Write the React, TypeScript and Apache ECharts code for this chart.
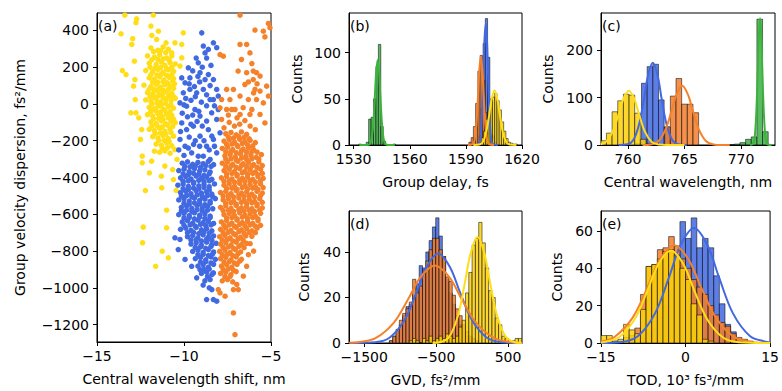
import React, { useEffect, useRef } from 'react';
import * as echarts from 'echarts';

const FONT = 'DejaVu Sans';
const BLUE = '#4169e1';
const ORANGE = '#f5822a';
const YELLOW = '#ffde17';
const GREEN = '#3cb43c';

// ---------- tick values ----------
const aXTicks = [-15, -10, -5];
const aYTicks = [-1200, -1000, -800, -600, -400, -200, 0, 200, 400];
const bXTicks = [1530, 1560, 1590, 1620];
const bYTicks = [0, 50, 100];
const cXTicks = [760, 765, 770];
const cYTicks = [0, 100, 200];
const dXTicks = [-1500, -500, 500];
const dYTicks = [0, 20, 40];
const eXTicks = [-15, 0, 15];
const eYTicks = [0, 20, 40, 60];

// ---------- (a) scatter: [wavelength shift nm, GVD fs^2/mm] ----------
const yellowPoints: number[][] = [
  [-13.62,382],[-13.4,483],[-11.76,483],[-12.76,442],[-12.72,463],[-13.54,182],[-13.33,160],[-12.85,233],[-13.0,324],[-12.95,355],
  [-12.82,133],[-12.9,97],[-12.8,24],[-13.05,-48],[-12.76,-48],[-12.6,-75],[-12.5,-193],[-12.43,-139],[-12.4,-284],[-12.4,-320],
  [-12.22,-471],[-12.34,-670],[-12.38,-755],[-11.63,-883],[-11.25,-801],[-10.9,-837],[-11.0,-674],[-11.0,-578],[-11.28,-456],[-11.3,-393],
  [-11.1,-338],[-11.99,-375],[-11.86,-311],[-11.7,-257],[-10.61,-411],[-10.65,-357],[-10.4,-302],[-10.52,-248],[-10.13,324],[-10.04,387],
  [-10.13,251],[-10.23,206],[-10.52,333],[-10.71,278],[-11.03,333],[-11.57,351],[-11.47,396],[-11.9,424],[-11.85,373],[-10.45,-470],
  [-11.9,305],[-11.5,292],[-11.2,310],[-10.9,298],
  [-12.1,262],[-11.7,255],[-11.4,268],[-11.0,250],[-10.7,262],
  [-12.0,222],[-11.6,215],[-11.3,228],[-11.1,210],[-10.8,225],[-10.5,218],
  [-12.2,182],[-11.8,176],[-11.5,188],[-11.2,172],[-10.9,185],[-10.6,178],
  [-12.0,142],[-11.7,135],[-11.4,148],[-11.15,130],[-10.85,145],[-10.6,138],
  [-12.3,102],[-11.9,95],[-11.6,108],[-11.35,92],[-11.1,105],[-10.8,98],[-10.55,110],
  [-12.1,62],[-11.8,55],[-11.5,68],[-11.25,52],[-11.0,65],[-10.7,58],
  [-12.2,22],[-11.9,15],[-11.6,28],[-11.35,12],[-11.05,25],[-10.75,18],[-10.5,30],
  [-12.0,-18],[-11.7,-25],[-11.45,-12],[-11.2,-28],[-10.9,-15],[-10.6,-22],
  [-12.1,-58],[-11.8,-65],[-11.5,-52],[-11.25,-68],[-11.0,-55],[-10.7,-62],
  [-11.9,-98],[-11.6,-105],[-11.3,-92],[-11.05,-108],[-10.75,-95],[-10.5,-102],
  [-12.0,-138],[-11.7,-145],[-11.4,-132],[-11.1,-148],[-10.8,-135],
  [-11.8,-178],[-11.5,-185],[-11.2,-172],[-10.9,-188],[-10.6,-175],
  [-11.6,-218],[-11.3,-225],[-11.0,-212],[-10.7,-228],
  [-11.4,-262],[-11.1,-255],[-10.8,-268],
  [-11.75,285],[-11.35,290],[-11.05,280],[-11.85,240],[-11.5,242],[-11.2,245],[-10.85,238],[-11.95,200],[-11.65,195],[-11.35,198],
  [-11.0,192],[-10.7,200],[-11.9,160],[-11.55,158],[-11.3,162],[-11.0,155],[-10.7,160],[-11.8,120],[-11.5,118],[-11.2,122],
  [-10.95,115],[-10.65,125],[-12.0,80],[-11.7,78],[-11.45,82],[-11.2,75],[-10.9,80],[-10.6,85],[-11.95,40],[-11.7,38],
  [-11.45,45],[-11.2,35],[-10.9,42],[-10.6,40],[-11.85,0],[-11.55,5],[-11.3,-2],[-11.05,3],[-10.75,-5],[-11.9,-40],
  [-11.6,-38],[-11.35,-45],[-11.1,-35],[-10.8,-42],[-11.75,-80],[-11.45,-78],[-11.2,-85],[-10.9,-75],[-10.6,-82],[-11.85,-120],
  [-11.55,-118],[-11.25,-125],[-10.95,-115],[-10.65,-122],[-11.65,-160],[-11.35,-158],[-11.05,-165],[-10.75,-155],[-11.45,-200],[-11.15,-198],
  [-10.85,-205],[-11.25,-240],[-10.95,-238],
];

const bluePoints: number[][] = [
  [-8.98,387],[-8.89,315],[-8.79,278],[-8.31,333],[-8.12,306],[-8.6,297],[-9.18,224],[-9.75,197],[-10.13,142],[-9.94,115],
  [-9.66,142],[-9.08,170],[-8.79,133],[-8.31,133],[-8.12,79],[-8.03,43],[-8.5,24],[-8.89,79],[-9.27,61],[-9.66,79],
  [-10.04,61],[-10.23,6],[-9.85,-12],[-9.37,-30],[-9.08,-66],[-8.7,-93],[-8.41,-48],[-8.12,-84],[-7.93,-157],[-8.31,-193],
  [-8.7,-230],[-9.08,-175],[-9.46,-121],[-9.85,-139],[-10.13,-103],[-10.23,-193],[-9.94,-230],[-9.56,-266],[-9.18,-284],[-8.89,-284],
  [-8.5,-302],[-8.12,-266],[-8.4,-175],[-8.03,-30],[-8.31,24],
  [-9.5,180],[-9.2,150],[-8.95,200],[-9.7,110],[-9.4,95],[-9.1,120],[-8.6,160],[-8.5,100],[-9.9,30],[-9.6,20],
  [-9.35,40],[-9.0,10],[-8.7,50],[-8.25,-10],[-10.1,-50],[-9.8,-70],[-9.5,-60],[-9.25,-95],[-8.95,-120],[-8.6,-140],
  [-10.2,-150],[-9.7,-180],[-9.35,-200],[-9.1,-230],[-8.85,-200],[-8.55,-250],[-10.3,-250],[-10.0,-280],[-9.75,-240],[-9.45,-220],
  [-8.25,-230],[-8.7,-10],[-9.15,-40],[-9.6,-110],[-10.0,-5],[-8.45,210],[-9.3,250],[-8.7,250],
  [-10.1,-322],[-9.8,-315],[-9.5,-328],[-9.2,-318],[-8.9,-325],[-8.6,-312],[-8.3,-330],
  [-10.3,-362],[-10.0,-355],[-9.7,-368],[-9.4,-352],[-9.1,-365],[-8.8,-358],[-8.5,-370],
  [-10.2,-402],[-9.9,-395],[-9.6,-408],[-9.3,-392],[-9.0,-405],[-8.7,-398],[-8.4,-410],
  [-10.35,-442],[-10.05,-435],[-9.75,-448],[-9.45,-432],[-9.15,-445],[-8.85,-438],[-8.55,-450],[-8.25,-435],
  [-10.2,-482],[-9.9,-475],[-9.6,-488],[-9.3,-472],[-9.0,-485],[-8.7,-478],[-8.4,-490],
  [-10.3,-522],[-10.0,-515],[-9.7,-528],[-9.4,-512],[-9.1,-525],[-8.8,-518],[-8.5,-530],[-8.2,-515],
  [-10.15,-562],[-9.85,-555],[-9.55,-568],[-9.25,-552],[-8.95,-565],[-8.65,-558],[-8.35,-570],
  [-10.3,-602],[-10.0,-595],[-9.7,-608],[-9.4,-592],[-9.1,-605],[-8.8,-598],[-8.5,-610],
  [-10.1,-642],[-9.8,-635],[-9.5,-648],[-9.2,-632],[-8.9,-645],[-8.6,-638],[-8.3,-650],
  [-10.2,-682],[-9.9,-675],[-9.6,-688],[-9.3,-672],[-9.0,-685],[-8.7,-678],[-8.4,-690],
  [-9.8,-722],[-9.5,-715],[-9.2,-728],[-8.9,-712],[-8.6,-725],[-8.3,-718],
  [-9.6,-762],[-9.3,-755],[-9.0,-768],[-8.7,-752],[-8.4,-765],[-8.15,-758],
  [-9.5,-802],[-9.2,-795],[-8.9,-808],[-8.6,-792],[-8.3,-805],
  [-9.35,-842],[-9.05,-835],[-8.75,-848],[-8.45,-832],[-8.2,-845],
  [-9.2,-882],[-8.9,-875],[-8.6,-888],[-8.3,-872],
  [-9.0,-922],[-8.7,-915],[-8.4,-928],
  [-8.8,-962],[-8.5,-955],
  [-9.95,-340],[-9.65,-342],[-9.35,-338],[-9.05,-345],[-8.75,-335],[-8.45,-340],
  [-10.05,-380],[-9.75,-385],[-9.45,-378],[-9.15,-382],[-8.85,-388],[-8.55,-380],
  [-10.05,-420],[-9.75,-418],[-9.45,-425],[-9.15,-415],[-8.85,-422],[-8.55,-418],
  [-10.05,-460],[-9.75,-465],[-9.45,-458],[-9.15,-462],[-8.85,-455],[-8.55,-468],
  [-10.15,-500],[-9.85,-498],[-9.55,-505],[-9.25,-495],[-8.95,-502],[-8.65,-498],[-8.35,-505],
  [-10.0,-540],[-9.7,-545],[-9.4,-538],[-9.1,-542],[-8.8,-548],[-8.5,-540],
  [-10.15,-580],[-9.85,-578],[-9.55,-585],[-9.25,-575],[-8.95,-582],[-8.65,-578],
  [-10.0,-620],[-9.7,-618],[-9.4,-625],[-9.1,-615],[-8.8,-622],[-8.5,-618],
  [-10.0,-660],[-9.65,-658],[-9.35,-665],[-9.05,-655],[-8.75,-662],[-8.45,-658],
  [-9.8,-700],[-9.45,-698],[-9.15,-705],[-8.85,-695],[-8.55,-702],
  [-9.6,-740],[-9.3,-738],[-9.0,-745],[-8.7,-735],[-8.4,-742],
  [-9.35,-780],[-9.05,-778],[-8.75,-785],[-8.45,-775],
  [-9.2,-820],[-8.9,-818],[-8.6,-825],[-8.35,-815],
  [-9.05,-860],[-8.75,-858],[-8.45,-865],
  [-8.85,-900],[-8.55,-898],[-8.65,-940],
  [-10.23,-737],[-10.33,-792],[-9.94,-846],[-9.56,-883],[-9.08,-901],[-9.27,-946],[-8.7,-1064],[-8.31,-1064],[-8.12,-1073],[-8.4,-1010],
  [-10.52,-728],[-8.31,-919],[-8.9,-985],[-8.55,-1000],
];

const orangePoints: number[][] = [
  [-6.78,483],[-5.15,438],[-5.06,415],[-5.92,402],[-5.44,396],[-5.35,365],[-7.74,260],[-7.93,269],[-6.78,324],[-6.4,324],
  [-6.21,278],[-6.7,242],[-6.89,179],[-6.4,170],[-6.02,179],[-5.83,170],[-5.63,152],[-6.02,133],[-5.92,79],[-5.63,70],
  [-5.15,43],[-5.25,97],[-6.5,106],[-6.78,43],[-7.16,79],[-7.55,79],[-7.84,24],[-7.93,-21],[-7.36,24],[-7.26,-30],
  [-6.3,24],[-6.1,-30],[-5.44,6],[-5.35,-103],[-5.63,-57],[-5.83,24],[-6.21,-57],[-6.78,-57],[-7.07,-30],[-7.55,-30],
  [-7.84,-84],[-7.4,-100],[-7.1,-120],[-6.8,-110],[-6.5,-90],[-6.2,-120],[-5.9,-140],[-7.7,-130],[-6.95,-75],[-6.6,-20],
  [-7.45,-60],[-6.0,60],[-6.3,120],[-5.8,110],[-6.1,220],
  [-7.6,-162],[-7.3,-155],[-7.0,-168],[-6.7,-152],[-6.4,-165],
  [-7.7,-202],[-7.4,-195],[-7.1,-208],[-6.8,-192],[-6.5,-205],[-6.2,-198],[-5.9,-210],
  [-7.8,-242],[-7.5,-235],[-7.2,-248],[-6.9,-232],[-6.6,-245],[-6.3,-238],[-6.0,-250],
  [-7.65,-282],[-7.35,-275],[-7.05,-288],[-6.75,-272],[-6.45,-285],[-6.15,-278],[-5.85,-290],[-5.55,-275],
  [-7.8,-322],[-7.5,-315],[-7.2,-328],[-6.9,-312],[-6.6,-325],[-6.3,-318],[-6.0,-330],[-5.7,-315],
  [-7.7,-362],[-7.4,-355],[-7.1,-368],[-6.8,-352],[-6.5,-365],[-6.2,-358],[-5.9,-370],[-5.6,-355],
  [-7.85,-402],[-7.55,-395],[-7.25,-408],[-6.95,-392],[-6.65,-405],[-6.35,-398],[-6.05,-410],[-5.75,-395],[-5.45,-405],
  [-7.7,-442],[-7.4,-435],[-7.1,-448],[-6.8,-432],[-6.5,-445],[-6.2,-438],[-5.9,-450],[-5.6,-435],
  [-7.9,-482],[-7.6,-475],[-7.3,-488],[-7.0,-472],[-6.7,-485],[-6.4,-478],[-6.1,-490],[-5.8,-475],[-5.5,-485],
  [-7.75,-522],[-7.45,-515],[-7.15,-528],[-6.85,-512],[-6.55,-525],[-6.25,-518],[-5.95,-530],[-5.65,-515],
  [-7.9,-562],[-7.6,-555],[-7.3,-568],[-7.0,-552],[-6.7,-565],[-6.4,-558],[-6.1,-570],[-5.8,-555],[-5.5,-565],
  [-7.7,-602],[-7.4,-595],[-7.1,-608],[-6.8,-592],[-6.5,-605],[-6.2,-598],[-5.9,-610],[-5.6,-595],
  [-7.85,-642],[-7.55,-635],[-7.25,-648],[-6.95,-632],[-6.65,-645],[-6.35,-638],[-6.05,-650],[-5.75,-635],
  [-7.9,-682],[-7.6,-675],[-7.3,-688],[-7.0,-672],[-6.7,-685],[-6.4,-678],[-6.1,-690],[-5.8,-675],
  [-7.95,-722],[-7.65,-715],[-7.35,-728],[-7.05,-712],[-6.75,-725],[-6.45,-718],
  [-7.9,-762],[-7.6,-755],[-7.3,-768],[-7.0,-752],[-6.7,-765],[-6.4,-758],
  [-7.95,-802],[-7.65,-795],[-7.35,-808],[-7.05,-792],[-6.75,-805],
  [-7.9,-842],[-7.6,-835],[-7.3,-848],[-7.0,-832],[-6.7,-845],
  [-7.85,-882],[-7.55,-875],[-7.25,-888],[-6.95,-872],
  [-7.9,-922],[-7.6,-915],[-7.3,-928],[-7.0,-912],
  [-7.8,-962],[-7.5,-955],[-7.2,-968],
  [-7.45,-180],[-7.15,-185],[-6.85,-178],[-6.55,-182],[-6.25,-190],
  [-7.55,-220],[-7.25,-218],[-6.95,-225],[-6.65,-215],[-6.35,-222],[-6.05,-228],
  [-7.6,-260],[-7.3,-258],[-7.0,-265],[-6.7,-255],[-6.4,-262],[-6.1,-258],[-5.8,-262],
  [-7.6,-300],[-7.3,-298],[-7.0,-305],[-6.7,-295],[-6.4,-302],[-6.1,-298],[-5.7,-300],
  [-7.6,-340],[-7.3,-338],[-7.0,-345],[-6.7,-335],[-6.4,-342],[-6.1,-338],[-5.8,-345],[-5.5,-335],
  [-7.55,-380],[-7.25,-378],[-6.95,-385],[-6.65,-375],[-6.35,-382],[-6.05,-378],[-5.75,-385],[-5.5,-378],
  [-7.7,-420],[-7.4,-418],[-7.1,-425],[-6.8,-415],[-6.5,-422],[-6.2,-418],[-5.9,-425],[-5.6,-415],
  [-7.55,-460],[-7.25,-458],[-6.95,-465],[-6.65,-455],[-6.35,-462],[-6.05,-458],[-5.75,-465],[-5.45,-455],
  [-7.75,-500],[-7.45,-498],[-7.15,-505],[-6.85,-495],[-6.55,-502],[-6.25,-498],[-5.95,-505],[-5.6,-498],
  [-7.6,-540],[-7.3,-538],[-7.0,-545],[-6.7,-535],[-6.4,-542],[-6.1,-538],[-5.8,-545],[-5.5,-535],
  [-7.75,-580],[-7.45,-578],[-7.15,-585],[-6.85,-575],[-6.55,-582],[-6.25,-578],[-5.95,-585],[-5.65,-578],
  [-7.55,-620],[-7.25,-618],[-6.95,-625],[-6.65,-615],[-6.35,-622],[-6.05,-618],[-5.75,-625],
  [-7.7,-660],[-7.4,-658],[-7.1,-665],[-6.8,-655],[-6.5,-662],[-6.2,-658],[-5.9,-665],[-5.6,-660],
  [-7.75,-700],[-7.45,-698],[-7.15,-705],[-6.85,-695],[-6.55,-702],[-6.25,-698],
  [-7.8,-740],[-7.5,-738],[-7.2,-745],[-6.9,-735],[-6.6,-742],
  [-7.75,-780],[-7.45,-778],[-7.15,-785],[-6.85,-775],[-6.55,-782],
  [-7.8,-820],[-7.5,-818],[-7.2,-825],[-6.9,-815],
  [-7.7,-860],[-7.4,-858],[-7.1,-865],[-6.8,-855],
  [-7.75,-900],[-7.45,-898],[-7.15,-905],
  [-7.65,-940],[-7.35,-938],
  [-7.16,-1137],[-7.07,-1255],[-8.03,-1010],[-7.93,-1028],[-7.64,-1046],[-7.16,-1010],[-6.97,-982],[-6.4,-883],[-6.59,-937],[-6.88,-1010],
  [-6.1,-720],[-5.9,-700],[-6.2,-760],[-6.0,-800],[-6.3,-820],
];

// ---------- histograms: first bin edge, bin width, counts ----------
// (b) group delay, fs
const gdGreenLo = 1532.8, gdGreenW = 1.3;
const gdGreenCounts = [1, 0, 0, 3, 28, 30, 50, 85, 109, 20, 4, 0, 0, 0, 1];
const gdBlueLo = 1596.8, gdBlueW = 1.2;
const gdBlueCounts = [10, 40, 110, 137, 95, 40, 10, 3];
const gdOrangeLo = 1591.6, gdOrangeW = 1.2;
const gdOrangeCounts = [3, 8, 20, 45, 80, 97, 70, 35, 12, 4];
const gdYellowLo = 1597.0, gdYellowW = 1.2;
const gdYellowCounts = [3, 8, 15, 28, 38, 50, 52, 56, 48, 38, 25, 15, 7, 3, 2, 1, 1];
// (c) central wavelength, nm
const cwYellowLo = 757.6, cwYellowW = 0.5;
const cwYellowCounts = [9, 25, 70, 93, 107, 105, 67, 12, 3];
const cwBlueLo = 760.7, cwBlueW = 0.5;
const cwBlueCounts = [3, 130, 165, 170, 95, 38, 8];
const cwOrangeLo = 763.25, cwOrangeW = 0.5;
const cwOrangeCounts = [38, 103, 140, 86, 86, 68];
const cwGreenLo = 768.9, cwGreenW = 0.5;
const cwGreenCounts = [1, 2, 5, 12, 17, 265, 28];
// (d) GVD, fs^2/mm
const gvdBlueLo = -1150, gvdBlueW = 46;
const gvdBlueCounts = [1, 3, 5, 8, 12, 16, 17, 21, 26, 34, 33, 40, 45, 51, 55, 47, 38, 28, 22, 17, 12, 8, 5, 3, 2, 1, 1];
const gvdOrangeLo = -1150, gvdOrangeW = 46;
const gvdOrangeCounts = [1, 3, 6, 10, 13, 15, 18, 28, 22, 25, 32, 36, 41, 46, 46, 41, 38, 29, 27, 21, 15, 12, 8, 5, 3, 2, 1];
const gvdYellowLo = -874, gvdYellowW = 46;
const gvdYellowCounts = [1, 2, 1, 0, 2, 1, 3, 1, 2, 3, 2, 4, 3, 2, 3, 7, 10, 22, 31, 43, 46, 53, 44, 33, 23, 20, 11, 8, 3, 2, 1, 1, 2, 2];
// (e) TOD, 10^3 fs^3/mm
const todBlueLo = -10, todBlueW = 1;
const todBlueCounts = [1, 2, 3, 5, 8, 14, 20, 28, 38, 65, 56, 67, 51, 56, 51, 36, 21, 10, 6, 2, 1];
const todOrangeLo = -14, todOrangeW = 1;
const todOrangeCounts = [1, 1, 1, 3, 4, 8, 26, 41, 42, 50, 51, 57, 52, 45, 40, 34, 30, 26, 20, 15, 11, 9, 5, 3, 2, 1];
const todYellowLo = -15, todYellowW = 1;
const todYellowCounts = [4, 4, 1, 2, 10, 7, 5, 18, 41, 42, 45, 49, 50, 47, 40, 34, 21, 15, 2, 1];

// ---------- fitted curves: [x, count] ----------
const gdGreenFit = [[1533,0],[1537,0],[1538.5,0.8],[1539.5,5.7],[1540.5,24],[1541.3,52],[1542,78],[1542.8,92],[1543.6,78],[1544.3,52],[1545.1,24],[1546.1,5.7],[1547.1,0.8],[1548.6,0],[1552,0]];
const gdOrangeFit = [[1591,0],[1593.7,0.9],[1594.7,6],[1595.7,25],[1596.5,54],[1597.2,82],[1598,96],[1598.8,82],[1599.5,54],[1600.3,25],[1601.3,6],[1602.3,0.9],[1605,0]];
const gdBlueFit = [[1594,0],[1596.9,1.2],[1597.8,8.2],[1598.6,34],[1599.3,74],[1599.9,112],[1600.6,132],[1601.3,112],[1601.9,74],[1602.6,34],[1603.4,8.2],[1604.3,1.2],[1607,0]];
const gdYellowFit = [[1594,0],[1597.3,0.5],[1599.2,3.7],[1601,15.3],[1602.5,33],[1603.8,50],[1605.3,59],[1606.8,50],[1608.1,33],[1609.6,15.3],[1611.4,3.7],[1613.3,0.5],[1617,0]];
const cwYellowFit = [[757.6,1.6],[758.08,7.1],[758.69,29.6],[759.17,64.2],[759.6,96.9],[760.08,114],[760.56,96.9],[760.99,64.2],[761.47,29.6],[762.08,7.1],[762.69,1],[763.5,0.04],[765,0]];
const cwBlueFit = [[759.2,0],[759.96,1.5],[760.48,10.7],[761,45],[761.42,97.4],[761.78,147],[762.2,173],[762.62,147],[762.98,97.4],[763.4,45],[763.92,10.7],[764.44,1.5],[765.2,0]];
const cwOrangeFit = [[761.3,0],[762.04,1.1],[762.68,7.75],[763.32,32.5],[763.84,70.4],[764.29,106],[764.8,125],[765.31,106],[765.76,70.4],[766.28,32.5],[766.92,7.75],[767.56,1.1],[768.3,0],[769,0]];
const cwGreenFit = [[770.8,0],[771.07,2.4],[771.21,16.6],[771.35,69.4],[771.47,150],[771.57,227],[771.68,267],[771.79,227],[771.89,150],[772.01,69.4],[772.15,16.6],[772.29,2.4],[772.7,0]];
const gvdBlueFit = [[-1700,0],[-1346,0.35],[-1144,2.4],[-938,10.2],[-776,22.1],[-633,33.4],[-471,39.3],[-309,33.4],[-166,22.1],[-4,10.2],[202,2.4],[404,0.35],[690,0]];
const gvdOrangeFit = [[-1710,0.1],[-1592,0.3],[-1343,2.1],[-1091,8.8],[-892,19.1],[-717,28.9],[-517,34],[-317,28.9],[-142,19.1],[57,8.8],[309,2.1],[558,0.3],[690,0.05]];
const gvdYellowFit = [[-550,0.05],[-432,0.42],[-314,2.9],[-196,12.1],[-102,26.2],[-19,39.6],[75,46.6],[169,39.6],[252,26.2],[346,12.1],[464,2.9],[582,0.42],[690,0.05]];
const todBlueFit = [[-15,0.03],[-11.4,0.55],[-8.41,3.8],[-5.39,16],[-2.99,34.7],[-0.89,52.4],[1.5,61.6],[3.89,52.4],[5.99,34.7],[8.39,16],[11.41,3.8],[14.4,0.55],[15,0.3]];
const todOrangeFit = [[-15,0.8],[-12.6,3.24],[-9.38,13.6],[-6.8,29.5],[-4.57,44.5],[-2,52.3],[0.57,44.5],[2.8,29.5],[5.38,13.6],[8.6,3.24],[11.8,0.47],[15,0.04]];
const todYellowFit = [[-15,0.3],[-14.6,0.45],[-11.8,3.07],[-9,12.9],[-6.77,27.9],[-4.82,42.2],[-2.6,49.6],[-0.38,42.2],[1.57,27.9],[3.8,12.9],[6.6,3.07],[9.4,0.45],[15,0]];

// ---------- helpers ----------
const fmt = (v: number) => String(v).replace('-', '\u2212');
const txt = { fontFamily: FONT, fontSize: 14, color: '#000' };

function xAxis(gridIndex: number, min: number, max: number, ticks: number[], name: string) {
  return {
    type: 'value', gridIndex, min, max, name, nameLocation: 'middle', nameGap: 30,
    nameTextStyle: txt,
    splitLine: { show: false },
    axisLine: { show: true, onZero: false, lineStyle: { color: '#000', width: 1 } },
    axisTick: { show: true, inside: false, length: 4, lineStyle: { color: '#000', width: 1 }, customValues: ticks },
    axisLabel: { ...txt, lineHeight: 14, margin: 7, formatter: fmt, customValues: ticks },
  };
}
function yAxis(gridIndex: number, min: number, max: number, ticks: number[], name: string, gap: number) {
  return {
    type: 'value', gridIndex, min, max, name, nameLocation: 'middle', nameGap: gap,
    nameTextStyle: txt,
    splitLine: { show: false },
    axisLine: { show: true, onZero: false, lineStyle: { color: '#000', width: 1 } },
    axisTick: { show: true, inside: false, length: 4, lineStyle: { color: '#000', width: 1 }, customValues: ticks },
    axisLabel: { ...txt, lineHeight: 14, margin: 8, formatter: fmt, customValues: ticks },
  };
}
function hist(idx: number, lo: number, w: number, counts: number[], fill: string) {
  return {
    type: 'custom', xAxisIndex: idx, yAxisIndex: idx, z: 2, silent: true, clip: true,
    data: counts.map((c, i) => [lo + i * w, lo + (i + 1) * w, c]),
    encode: { x: [0, 1], y: 2 },
    renderItem: (_p: any, api: any) => {
      const a = api.coord([api.value(0), api.value(2)]);
      const b = api.coord([api.value(1), 0]);
      return {
        type: 'rect',
        shape: { x: a[0], y: a[1], width: b[0] - a[0], height: b[1] - a[1] },
        style: { fill, stroke: 'rgba(0,0,0,0.65)', lineWidth: 0.8 },
      };
    },
  };
}
function fit(idx: number, data: number[][], color: string) {
  return {
    type: 'line', xAxisIndex: idx, yAxisIndex: idx, z: 4, silent: true, clip: true,
    data, smooth: 0.35, showSymbol: false, symbol: 'none',
    lineStyle: { color, width: 2 },
  };
}
function scatter(data: number[][], color: string) {
  return {
    type: 'scatter', xAxisIndex: 0, yAxisIndex: 0, silent: true, clip: true,
    data, symbolSize: 5.5, itemStyle: { color, opacity: 1 },
  };
}

const HB = 'rgba(65,105,225,0.85)';
const HO = 'rgba(240,125,45,0.85)';
const HY = 'rgba(250,208,10,0.85)';
const HG = 'rgba(50,170,60,0.8)';

const grid = (left: number, top: number, width: number, height: number) => ({
  left, top, width, height, show: true, borderColor: '#000', borderWidth: 1, backgroundColor: 'transparent',
});

const panelLabel = (text: string, left: number, top: number) => ({
  type: 'text', left, top, silent: true,
  style: { text, fontFamily: FONT, fontSize: 14, fill: '#000' },
});

const option: any = {
  animation: false,
  grid: [
    grid(97, 13, 174, 329),
    grid(349, 13, 173, 132),
    grid(601, 13, 174, 132),
    grid(349, 211, 173, 132),
    grid(601, 211, 174, 132),
  ],
  xAxis: [
    xAxis(0, -15, -5, aXTicks, 'Central wavelength shift, nm'),
    xAxis(1, 1527.5, 1620, bXTicks, 'Group delay, fs'),
    xAxis(2, 757.62, 773, cXTicks, 'Central wavelength, nm'),
    xAxis(3, -1712, 694, dXTicks, 'GVD, fs\u00b2/mm'),
    xAxis(4, -15, 15, eXTicks, 'TOD, 10\u00b3 fs\u00b3/mm'),
  ],
  yAxis: [
    yAxis(0, -1295, 495, aYTicks, 'Group velocity dispersion, fs\u00b2/mm', 70),
    yAxis(1, 0, 143, bYTicks, 'Counts', 45),
    yAxis(2, 0, 278, cYTicks, 'Counts', 46),
    yAxis(3, 0, 58, dYTicks, 'Counts', 38),
    yAxis(4, 0, 70.7, eYTicks, 'Counts', 37),
  ],
  graphic: [
    panelLabel('(a)', 98, 19),
    panelLabel('(b)', 350, 19),
    panelLabel('(c)', 602, 19),
    panelLabel('(d)', 350, 217),
    panelLabel('(e)', 602, 217),
  ],
  series: [
    scatter(yellowPoints, YELLOW),
    scatter(bluePoints, BLUE),
    scatter(orangePoints, ORANGE),

    hist(1, gdBlueLo, gdBlueW, gdBlueCounts, HB),
    hist(1, gdOrangeLo, gdOrangeW, gdOrangeCounts, HO),
    hist(1, gdYellowLo, gdYellowW, gdYellowCounts, HY),
    hist(1, gdGreenLo, gdGreenW, gdGreenCounts, HG),
    fit(1, gdBlueFit, BLUE), fit(1, gdOrangeFit, ORANGE), fit(1, gdYellowFit, YELLOW), fit(1, gdGreenFit, GREEN),

    hist(2, cwBlueLo, cwBlueW, cwBlueCounts, HB),
    hist(2, cwOrangeLo, cwOrangeW, cwOrangeCounts, HO),
    hist(2, cwYellowLo, cwYellowW, cwYellowCounts, HY),
    hist(2, cwGreenLo, cwGreenW, cwGreenCounts, HG),
    fit(2, cwBlueFit, BLUE), fit(2, cwOrangeFit, ORANGE), fit(2, cwYellowFit, YELLOW), fit(2, cwGreenFit, GREEN),

    hist(3, gvdBlueLo, gvdBlueW, gvdBlueCounts, HB),
    hist(3, gvdOrangeLo, gvdOrangeW, gvdOrangeCounts, HO),
    hist(3, gvdYellowLo, gvdYellowW, gvdYellowCounts, HY),
    fit(3, gvdBlueFit, BLUE), fit(3, gvdOrangeFit, ORANGE), fit(3, gvdYellowFit, YELLOW),

    hist(4, todBlueLo, todBlueW, todBlueCounts, HB),
    hist(4, todOrangeLo, todOrangeW, todOrangeCounts, HO),
    hist(4, todYellowLo, todYellowW, todYellowCounts, HY),
    fit(4, todBlueFit, BLUE), fit(4, todOrangeFit, ORANGE), fit(4, todYellowFit, YELLOW),
  ],
};

export default function App() {
  const ref = useRef<HTMLDivElement>(null);
  useEffect(() => {
    const chart = echarts.init(ref.current!, null, { renderer: 'svg' });
    chart.setOption(option);
    return () => chart.dispose();
  }, []);
  return (
    <div
      ref={ref}
      style={{ position: 'absolute', left: 0, top: 0, width: 782, height: 391, background: '#fff' }}
    />
  );
}
